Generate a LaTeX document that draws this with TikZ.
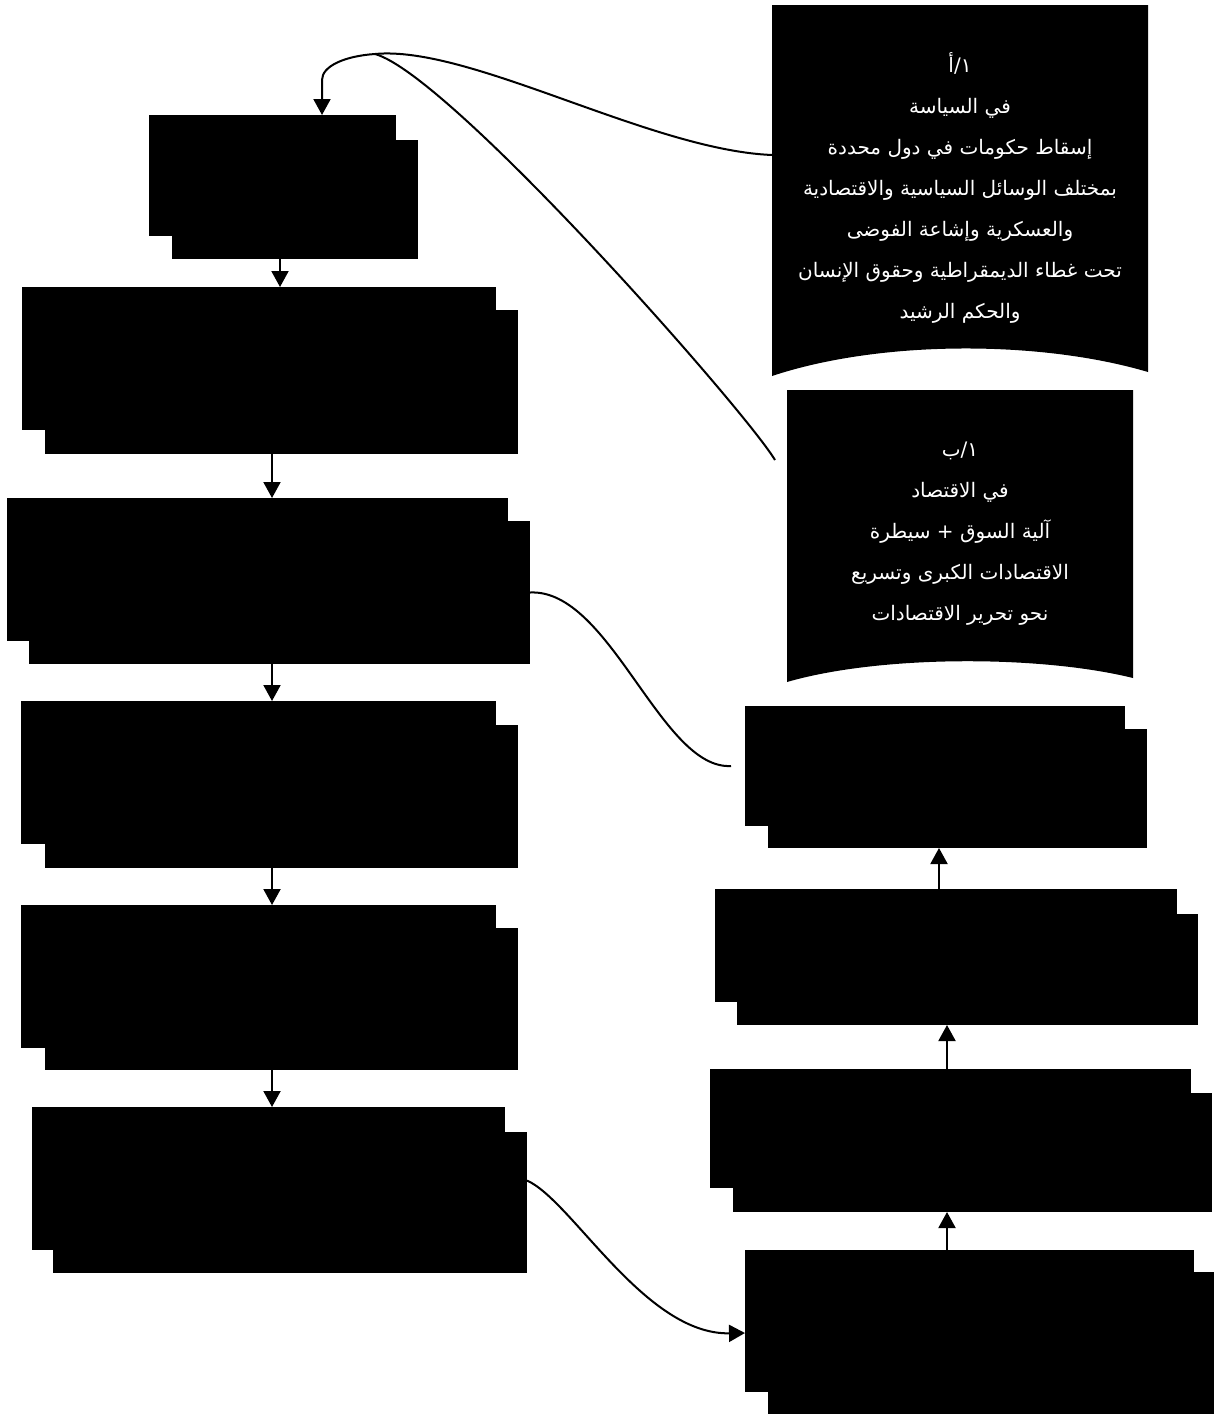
\documentclass[tikz,border=0pt]{standalone}
\usepackage{fontspec}
\newfontfamily\arabicfont[Script=Arabic]{DejaVu Sans}
\TeXXeTstate=1
\usetikzlibrary{arrows.meta,fit}
\newcommand\pairbox[9]{%
  \node[blk, fit={(#6,#7) (#8,#9)}] (#1s) {};
  \node[blk, fit={(#2,#3) (#4,#5)}] (#1) {};}
\begin{document}
\begin{tikzpicture}[x=1pt,y=-1pt,
  blk/.style={fill=black, draw=none, inner sep=0pt, outer sep=0pt},
  con/.style={line width=2pt, black},
  arr/.style={con, -{Triangle[length=16pt,width=17pt]}},
  txt/.style={text=white, font=\arabicfont\fontsize{20}{41}\selectfont, align=center}]
\useasboundingbox (0,0) rectangle (1216,1414);

% left column
\pairbox{L1}{149}{115}{396}{236}{172}{140}{418}{259}
\pairbox{L2}{22}{287}{496}{430}{45}{310}{518}{454}
\pairbox{L3}{7}{498}{508}{641}{29}{521}{530}{664}
\pairbox{L4}{21}{701}{496}{844}{45}{725}{518}{868}
\pairbox{L5}{21}{905}{496}{1048}{45}{928}{518}{1070}
\pairbox{L6}{32}{1107}{505}{1250}{53}{1132}{527}{1273}

% right column
\pairbox{R1}{745}{706}{1125}{826}{768}{729}{1147}{848}
\pairbox{R2}{715}{889}{1177}{1002}{737}{914}{1198}{1025}
\pairbox{R3}{710}{1069}{1191}{1188}{733}{1093}{1212}{1212}
\pairbox{R4}{745}{1250}{1194}{1392}{768}{1272}{1214}{1414}

% banner shapes
\fill (772,5) -- (1148,5) -- (1148,372) .. controls (1040,340) and (880,340) .. (772,376) -- cycle;
\fill (787,390) -- (1133,390) -- (1133,678) .. controls (1040,655) and (880,655) .. (787,682) -- cycle;

\node[txt] (T1) at (960,188) {%
  \beginR ١/أ\endR\\
  \beginR في السياسة\endR\\
  \beginR إسقاط حكومات في دول محددة\endR\\
  \beginR بمختلف الوسائل السياسية والاقتصادية\endR\\
  \beginR والعسكرية وإشاعة الفوضى\endR\\
  \beginR تحت غطاء الديمقراطية وحقوق الإنسان\endR\\
  \beginR والحكم الرشيد\endR};

\node[txt] (T2) at (960,534) {%
  \beginR ١/ب\endR\\
  \beginR في الاقتصاد\endR\\
  \beginR آلية السوق + سيطرة\endR\\
  \beginR الاقتصادات الكبرى وتسريع\endR\\
  \beginR نحو تحرير الاقتصادات\endR};

% vertical arrows, left column
\coordinate (a1) at ([xshift=-15pt]L1s.south);
\draw[arr] (a1) -- (a1 |- L2.north);
\coordinate (a2) at ([xshift=-9.5pt]L2s.south);
\draw[arr] (a2) -- (a2 |- L3.north);
\coordinate (a3) at ([xshift=-7.5pt]L3s.south);
\draw[arr] (a3) -- (a3 |- L4.north);
\coordinate (a4) at ([xshift=-9.5pt]L4s.south);
\draw[arr] (a4) -- (a4 |- L5.north);
\coordinate (a5) at ([xshift=-9.5pt]L5s.south);
\draw[arr] (a5) -- (a5 |- L6.north);

% vertical arrows, right column (upwards)
\coordinate (b1) at ([xshift=-7pt]R2.north);
\draw[arr] (b1) -- (b1 |- R1s.south);
\coordinate (b2) at ([xshift=-3.5pt]R3.north);
\draw[arr] (b2) -- (b2 |- R2s.south);
\coordinate (b3) at ([xshift=-22.5pt]R4.north);
\draw[arr] (b3) -- (b3 |- R3s.south);

% cross connectors
\draw[con] (L3s.east) .. controls +(80,-4) and +(-70,4) .. ([xshift=-14pt]R1.west);
\draw[arr] ([yshift=22pt]L6s.east) .. controls +(45,20) and +(-100,2) .. ([yshift=-12pt]R4.west);

% top connectors into L1
\coordinate (J) at (375,54);
\coordinate (T1w) at (772,155);
\coordinate (T2w) at (775,460);
\coordinate (a0) at ([xshift=49.5pt]L1.north);
\draw[arr] (T1w) .. controls (650,150) and (470,45) .. (J) .. controls (345,56) and (322,66) .. ([yshift=35pt]a0) -- (a0);
\draw[con] (T2w) .. controls (745,410) and (450,75) .. (J);
\end{tikzpicture}
\end{document}
